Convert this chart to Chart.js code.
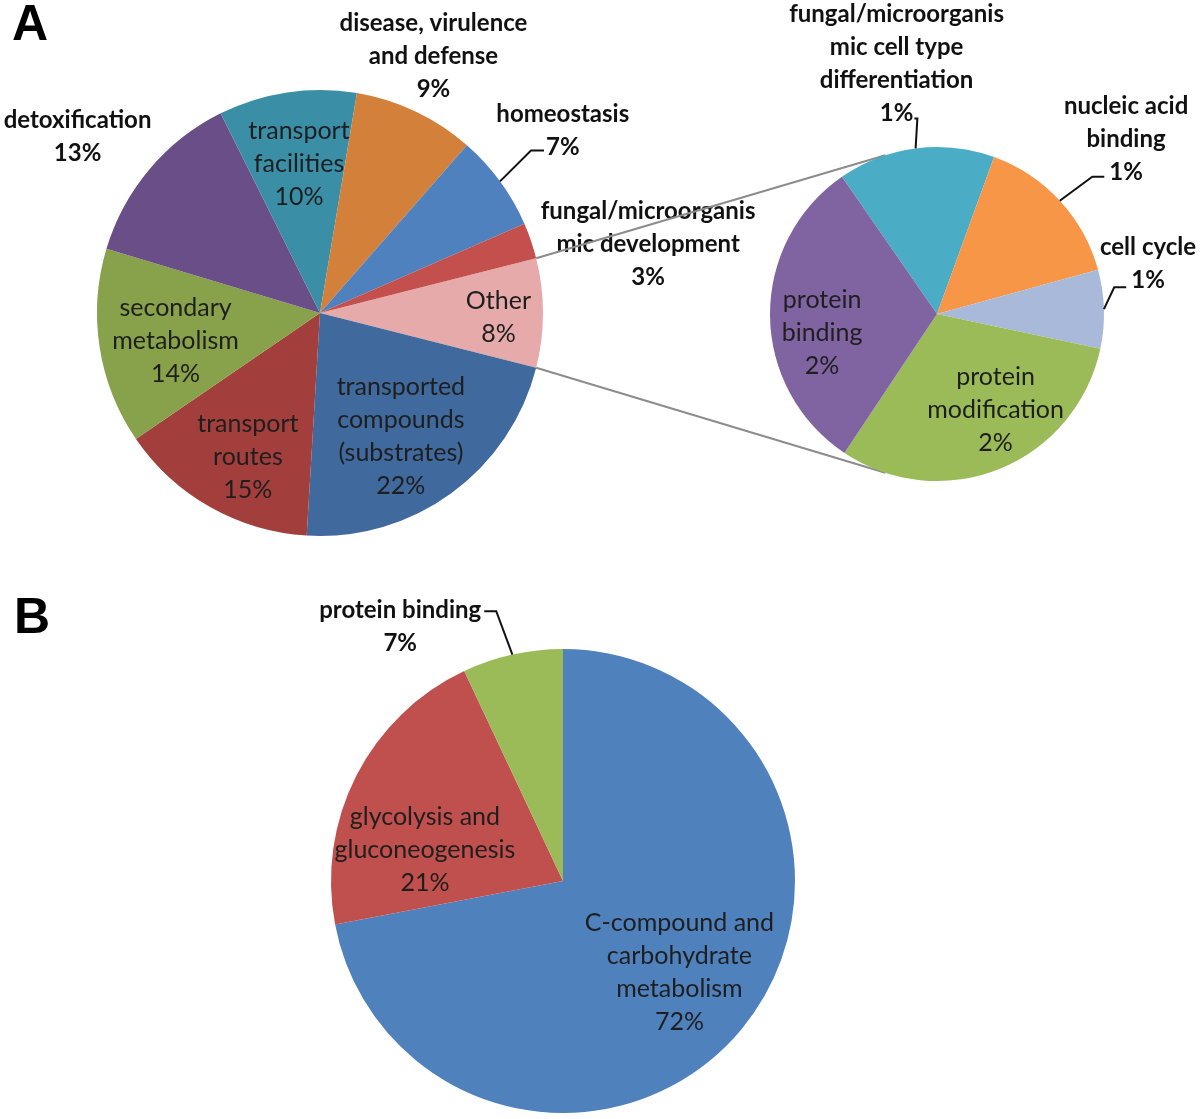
<!DOCTYPE html>
<html>
<head>
<meta charset="utf-8">
<script src="https://cdn.jsdelivr.net/npm/chart.js@4.4.1/dist/chart.umd.min.js"></script>
<style>
  body { margin: 0; background: #fff; width: 1200px; height: 1119px; position: relative; overflow: hidden; }
  canvas { position: absolute; left: 0; }
  #mainPie, #otherPie { top: 0; }
  #bPie { top: 560px; }
  .tag { position: absolute; font: bold 50px "Liberation Sans", Arial, sans-serif; line-height: 1; color: #000; }
</style>
</head>
<body>
<div class="tag" style="left:12px;top:-2px">A</div>
<div class="tag" style="left:14px;top:591px">B</div>
<canvas id="mainPie" width="1200" height="560"></canvas>
<canvas id="otherPie" width="1200" height="560"></canvas>
<canvas id="bPie" width="1200" height="559"></canvas>
<script>
// ===== Data =====
// panel A, main pie (share of genes, %)
const mainCategories = [
  ["Other"],
  ["transported", "compounds", "(substrates)"],
  ["transport", "routes"],
  ["secondary", "metabolism"],
  ["detoxification"],
  ["transport", "facilities"],
  ["disease, virulence", "and defense"],
  ["homeostasis"],
  ["fungal/microorganis", "mic development"],
];
const mainValues = [7.9, 22.0, 14.5, 14.2, 13.0, 10.0, 8.8, 7.0, 2.6];

// panel A, breakdown of "Other"
const otherCategories = [
  ["fungal/microorganis", "mic cell type", "differentiation"],
  ["nucleic acid", "binding"],
  ["cell cycle"],
  ["protein", "modification"],
  ["protein", "binding"],
];
const otherValues = [1.2, 1.2, 0.6, 2.45, 2.45];

// panel B
const bCategories = [
  ["C-compound and", "carbohydrate", "metabolism"],
  ["glycolysis and", "gluconeogenesis"],
  ["protein binding"],
];
const bValues = [72, 21, 7];

// ===== Styles =====
const mainColors = ["#E5AAA9", "#40699D", "#A23F3C", "#87A24A", "#6A4E88", "#3A8FA6", "#D3803A", "#4F81BF", "#C4504D"];
const otherColors = ["#4BACC6", "#F79646", "#A9B9DA", "#9BBB59", "#8064A2"];
const bColors = ["#4F81BD", "#C0504D", "#9BBB59"];

const insideFont = '25px Lato, "Open Sans", sans-serif';
const outsideFont = 'bold 24px Lato, "Open Sans", sans-serif';
const lineHeight = 33;
const insideText = "#1e1e1e";
const outsideText = "#111";

// label placement: point on the slice's mid angle at f * radius, then nudged
const mainLabelPos = [
  { f: 0.8, dx: 0, dy: 4, inside: true },
  { f: 0.66, dx: -6, dy: 5, inside: true },
  { f: 0.72, dx: 7, dy: 4, inside: true },
  { f: 0.66, dx: 1, dy: 5, inside: true },
  { f: 1.34, dx: -14, dy: 16 },
  { f: 0.67, dx: 1, dy: -1, inside: true },
  { f: 1.26, dx: -7, dy: -3 },
  { f: 1.36, dx: -2, dy: -3, leader: { line: 1, side: "left", elbow: 15, gap: 2, dy: 3 } },
  { f: 1.503, dx: 11, dy: 40 },
];
const otherLabelPos = [
  { f: 1.516, dx: -8, dy: 1, leader: { line: 3, side: "right", elbow: 4, gap: 1, dy: 5 } },
  { f: 1.54, dx: 0, dy: 0, leader: { line: 2, side: "left", elbow: 17, gap: 5, dy: 4 } },
  { f: 1.3, dx: -6, dy: -44, leader: { line: 1, side: "left", elbow: 17, gap: 5, dy: 7 } },
  { f: 0.675, dx: 16, dy: -8, inside: true },
  { f: 0.7, dx: 2, dy: 18, inside: true },
];
const bLabelPos = [
  { f: 0.64, dx: 2, dy: -3, inside: true },
  { f: 0.61, dx: -12, dy: 33, inside: true },
  { f: 1.3, dx: -97, dy: 40, leader: { line: 0, side: "right", elbow: 15, gap: 3, dy: 1 } },
];

const connectorSpread = 18; // degrees off vertical where the connectors meet the small pie

// ===== Plugins =====
function sliceLabels(categories, values, placement) {
  return {
    id: "sliceLabels",
    afterDatasetsDraw(chart) {
      const ctx = chart.ctx;
      const meta = chart.getDatasetMeta(0);
      ctx.save();
      ctx.textAlign = "center";
      ctx.textBaseline = "middle";
      meta.data.forEach((arc, i) => {
        const p = arc.getProps(["x", "y", "startAngle", "endAngle", "outerRadius"], true);
        const mid = (p.startAngle + p.endAngle) / 2;
        const pos = placement[i];
        const cx = p.x + Math.cos(mid) * p.outerRadius * pos.f + pos.dx;
        const cy = p.y + Math.sin(mid) * p.outerRadius * pos.f + pos.dy;
        const lines = categories[i].concat([Math.round(values[i]) + "%"]);
        const top = cy - ((lines.length - 1) * lineHeight) / 2;
        ctx.font = pos.inside ? insideFont : outsideFont;
        ctx.fillStyle = pos.inside ? insideText : outsideText;
        lines.forEach((t, k) => ctx.fillText(t, cx, top + k * lineHeight));

        if (pos.leader) {
          const ld = pos.leader;
          const w = ctx.measureText(lines[ld.line]).width;
          const ly = top + ld.line * lineHeight + ld.dy;
          const sgn = ld.side === "left" ? -1 : 1;
          const ax = cx + sgn * w / 2;
          ctx.beginPath();
          ctx.moveTo(p.x + Math.cos(mid) * p.outerRadius, p.y + Math.sin(mid) * p.outerRadius);
          ctx.lineTo(ax + sgn * ld.elbow, ly);
          ctx.lineTo(ax + sgn * ld.gap, ly);
          ctx.strokeStyle = "#111";
          ctx.lineWidth = 2;
          ctx.stroke();
        }
      });
      ctx.restore();
    },
  };
}

function pieOptions(pad, rotation) {
  return {
    responsive: false,
    animation: false,
    rotation: rotation,
    layout: { padding: pad },
    plugins: { legend: { display: false }, tooltip: { enabled: false } },
  };
}

// ===== Charts =====
const mainChart = new Chart(document.getElementById("mainPie"), {
  type: "pie",
  data: {
    labels: mainCategories,
    datasets: [{ data: mainValues, backgroundColor: mainColors, borderWidth: 0 }],
  },
  // "Other" centred on 3 o'clock
  options: pieOptions({ left: 97, right: 657, top: 90, bottom: 24 },
    90 - (mainValues[0] / mainValues.reduce((a, b) => a + b, 0)) * 180),
  plugins: [sliceLabels(mainCategories, mainValues, mainLabelPos)],
});

const connectorPlugin = {
  id: "connectors",
  beforeDatasetsDraw(chart) {
    const src = mainChart.getDatasetMeta(0).data[0].getProps(["x", "y", "startAngle", "endAngle", "outerRadius"], true);
    const dst = chart.getDatasetMeta(0).data[0].getProps(["x", "y", "outerRadius"], true);
    const s = (connectorSpread * Math.PI) / 180;
    const ends = [
      [src.startAngle, -Math.PI / 2 - s],
      [src.endAngle, Math.PI / 2 + s],
    ];
    const ctx = chart.ctx;
    ctx.save();
    ctx.strokeStyle = "#8c8c8c";
    ctx.lineWidth = 2;
    ends.forEach(([a, b]) => {
      ctx.beginPath();
      ctx.moveTo(src.x + Math.cos(a) * src.outerRadius, src.y + Math.sin(a) * src.outerRadius);
      ctx.lineTo(dst.x + Math.cos(b) * dst.outerRadius, dst.y + Math.sin(b) * dst.outerRadius);
      ctx.stroke();
    });
    ctx.restore();
  },
};

const otherChart = new Chart(document.getElementById("otherPie"), {
  type: "pie",
  data: {
    labels: otherCategories,
    datasets: [{ data: otherValues, backgroundColor: otherColors, borderWidth: 0 }],
  },
  options: pieOptions({ left: 770, right: 96, top: 147, bottom: 79 }, -34.7),
  plugins: [connectorPlugin, sliceLabels(otherCategories, otherValues, otherLabelPos)],
});

const bChart = new Chart(document.getElementById("bPie"), {
  type: "pie",
  data: {
    labels: bCategories,
    datasets: [{ data: bValues, backgroundColor: bColors, borderWidth: 0 }],
  },
  options: pieOptions({ left: 331, right: 405, top: 89, bottom: 6 }, 0),
  plugins: [sliceLabels(bCategories, bValues, bLabelPos)],
});
</script>
</body>
</html>
